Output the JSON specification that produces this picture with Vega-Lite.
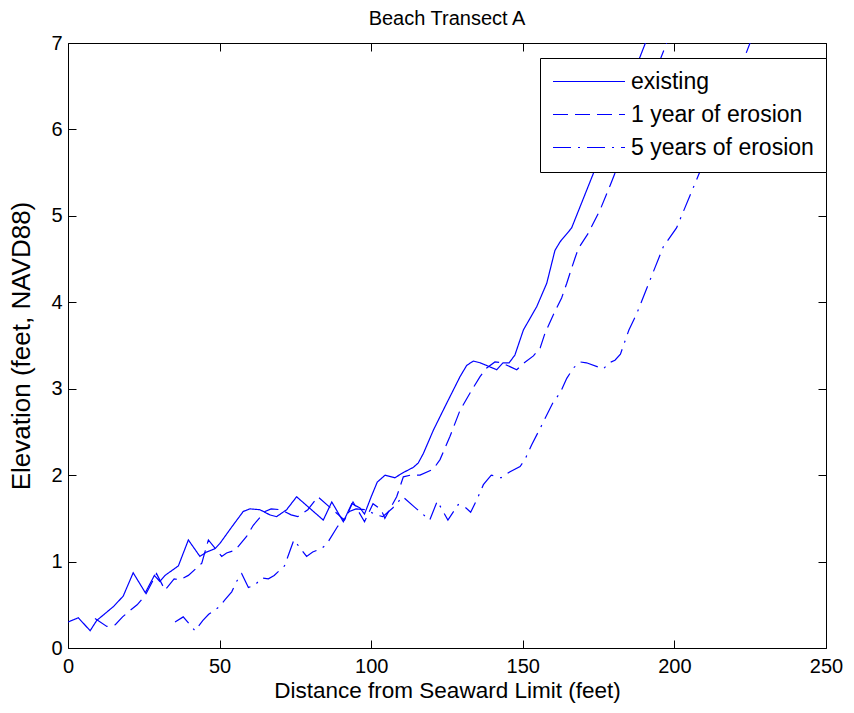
{
  "$schema": "https://vega.github.io/schema/vega-lite/v6.json",
  "autosize": "none",
  "width": 758,
  "height": 605,
  "padding": {"left": 68, "top": 43, "right": 28, "bottom": 65},
  "background": "white",
  "title": {"text": "Beach Transect A", "fontSize": 20, "fontWeight": "normal", "font": "Liberation Sans", "color": "black", "offset": 4},
  "config": {
    "view": {"stroke": "black", "strokeWidth": 1},
    "axis": {"grid": false, "domain": false, "tickColor": "black", "tickSize": -8, "labelColor": "black", "titleColor": "black", "labelFont": "Liberation Sans", "titleFont": "Liberation Sans", "labelFontSize": 20, "titleFontSize": 22.5, "titleFontWeight": "normal", "labelFlush": false},
    "legend": {"labelFont": "Liberation Sans", "labelFontSize": 23, "labelColor": "black", "labelLimit": 400}
  },
  "data": {"values": [
    {"series": "existing", "x": 0, "y": 0.30},
    {"series": "existing", "x": 3.4, "y": 0.35},
    {"series": "existing", "x": 7.3, "y": 0.20},
    {"series": "existing", "x": 9.5, "y": 0.32},
    {"series": "existing", "x": 11.6, "y": 0.38},
    {"series": "existing", "x": 15, "y": 0.48},
    {"series": "existing", "x": 18.2, "y": 0.60},
    {"series": "existing", "x": 21.5, "y": 0.87},
    {"series": "existing", "x": 25.5, "y": 0.64},
    {"series": "existing", "x": 28.5, "y": 0.84},
    {"series": "existing", "x": 30.3, "y": 0.77},
    {"series": "existing", "x": 32, "y": 0.84},
    {"series": "existing", "x": 36.4, "y": 0.95},
    {"series": "existing", "x": 39.7, "y": 1.25},
    {"series": "existing", "x": 43.5, "y": 1.06},
    {"series": "existing", "x": 45.7, "y": 1.11},
    {"series": "existing", "x": 48.5, "y": 1.15},
    {"series": "existing", "x": 50.1, "y": 1.21},
    {"series": "existing", "x": 54, "y": 1.40},
    {"series": "existing", "x": 57.8, "y": 1.58},
    {"series": "existing", "x": 60, "y": 1.61},
    {"series": "existing", "x": 63.3, "y": 1.60},
    {"series": "existing", "x": 66.6, "y": 1.54},
    {"series": "existing", "x": 68.8, "y": 1.52},
    {"series": "existing", "x": 72.1, "y": 1.60},
    {"series": "existing", "x": 75.4, "y": 1.75},
    {"series": "existing", "x": 79.3, "y": 1.63},
    {"series": "existing", "x": 84.2, "y": 1.48},
    {"series": "existing", "x": 87, "y": 1.69},
    {"series": "existing", "x": 90.8, "y": 1.46},
    {"series": "existing", "x": 93.6, "y": 1.67},
    {"series": "existing", "x": 96.3, "y": 1.62},
    {"series": "existing", "x": 97.8, "y": 1.55},
    {"series": "existing", "x": 100, "y": 1.75},
    {"series": "existing", "x": 102, "y": 1.92},
    {"series": "existing", "x": 104.6, "y": 2.00},
    {"series": "existing", "x": 107.8, "y": 1.97},
    {"series": "existing", "x": 110.6, "y": 2.03},
    {"series": "existing", "x": 113.9, "y": 2.09},
    {"series": "existing", "x": 115.5, "y": 2.14},
    {"series": "existing", "x": 117.2, "y": 2.25},
    {"series": "existing", "x": 120.5, "y": 2.52},
    {"series": "existing", "x": 124.3, "y": 2.79},
    {"series": "existing", "x": 129.3, "y": 3.14},
    {"series": "existing", "x": 131.5, "y": 3.27},
    {"series": "existing", "x": 133.7, "y": 3.32},
    {"series": "existing", "x": 135.9, "y": 3.30},
    {"series": "existing", "x": 141.4, "y": 3.22},
    {"series": "existing", "x": 143.5, "y": 3.30},
    {"series": "existing", "x": 145.5, "y": 3.30},
    {"series": "existing", "x": 147.4, "y": 3.39},
    {"series": "existing", "x": 150.2, "y": 3.68},
    {"series": "existing", "x": 154.6, "y": 3.95},
    {"series": "existing", "x": 157.9, "y": 4.22},
    {"series": "existing", "x": 160.6, "y": 4.60},
    {"series": "existing", "x": 162.3, "y": 4.70},
    {"series": "existing", "x": 166.1, "y": 4.86},
    {"series": "existing", "x": 174.4, "y": 5.59},
    {"series": "existing", "x": 180, "y": 6.10},
    {"series": "existing", "x": 186, "y": 6.60},
    {"series": "existing", "x": 191, "y": 7.05},

    {"series": "1 year of erosion", "x": 8.9, "y": 0.34},
    {"series": "1 year of erosion", "x": 12.8, "y": 0.25},
    {"series": "1 year of erosion", "x": 15.6, "y": 0.27},
    {"series": "1 year of erosion", "x": 18, "y": 0.36},
    {"series": "1 year of erosion", "x": 20, "y": 0.42},
    {"series": "1 year of erosion", "x": 22.8, "y": 0.50},
    {"series": "1 year of erosion", "x": 25.5, "y": 0.61},
    {"series": "1 year of erosion", "x": 29.2, "y": 0.86},
    {"series": "1 year of erosion", "x": 32, "y": 0.67},
    {"series": "1 year of erosion", "x": 35, "y": 0.80},
    {"series": "1 year of erosion", "x": 36.9, "y": 0.79},
    {"series": "1 year of erosion", "x": 39.7, "y": 0.84},
    {"series": "1 year of erosion", "x": 44.1, "y": 0.98},
    {"series": "1 year of erosion", "x": 46.3, "y": 1.25},
    {"series": "1 year of erosion", "x": 50.7, "y": 1.06},
    {"series": "1 year of erosion", "x": 52.3, "y": 1.10},
    {"series": "1 year of erosion", "x": 55.1, "y": 1.13},
    {"series": "1 year of erosion", "x": 58.9, "y": 1.29},
    {"series": "1 year of erosion", "x": 61.1, "y": 1.42},
    {"series": "1 year of erosion", "x": 65, "y": 1.58},
    {"series": "1 year of erosion", "x": 67, "y": 1.61},
    {"series": "1 year of erosion", "x": 70.3, "y": 1.60},
    {"series": "1 year of erosion", "x": 73.6, "y": 1.54},
    {"series": "1 year of erosion", "x": 75.8, "y": 1.52},
    {"series": "1 year of erosion", "x": 79.1, "y": 1.60},
    {"series": "1 year of erosion", "x": 82.4, "y": 1.75},
    {"series": "1 year of erosion", "x": 86.3, "y": 1.63},
    {"series": "1 year of erosion", "x": 91.2, "y": 1.48},
    {"series": "1 year of erosion", "x": 94, "y": 1.69},
    {"series": "1 year of erosion", "x": 97.8, "y": 1.46},
    {"series": "1 year of erosion", "x": 100.6, "y": 1.67},
    {"series": "1 year of erosion", "x": 103.3, "y": 1.60},
    {"series": "1 year of erosion", "x": 104.5, "y": 1.50},
    {"series": "1 year of erosion", "x": 108.4, "y": 1.75},
    {"series": "1 year of erosion", "x": 110.6, "y": 1.98},
    {"series": "1 year of erosion", "x": 113, "y": 2.00},
    {"series": "1 year of erosion", "x": 116.1, "y": 2.00},
    {"series": "1 year of erosion", "x": 120.5, "y": 2.07},
    {"series": "1 year of erosion", "x": 122.7, "y": 2.18},
    {"series": "1 year of erosion", "x": 126, "y": 2.45},
    {"series": "1 year of erosion", "x": 129.3, "y": 2.75},
    {"series": "1 year of erosion", "x": 132.6, "y": 2.95},
    {"series": "1 year of erosion", "x": 135.9, "y": 3.14},
    {"series": "1 year of erosion", "x": 138.1, "y": 3.24},
    {"series": "1 year of erosion", "x": 140.8, "y": 3.31},
    {"series": "1 year of erosion", "x": 143, "y": 3.30},
    {"series": "1 year of erosion", "x": 148, "y": 3.22},
    {"series": "1 year of erosion", "x": 150.5, "y": 3.30},
    {"series": "1 year of erosion", "x": 153.5, "y": 3.38},
    {"series": "1 year of erosion", "x": 155.7, "y": 3.47},
    {"series": "1 year of erosion", "x": 157.3, "y": 3.64},
    {"series": "1 year of erosion", "x": 160, "y": 3.85},
    {"series": "1 year of erosion", "x": 162.8, "y": 4.05},
    {"series": "1 year of erosion", "x": 164.5, "y": 4.22},
    {"series": "1 year of erosion", "x": 165.6, "y": 4.34},
    {"series": "1 year of erosion", "x": 167.2, "y": 4.51},
    {"series": "1 year of erosion", "x": 168.3, "y": 4.62},
    {"series": "1 year of erosion", "x": 171.6, "y": 4.80},
    {"series": "1 year of erosion", "x": 175.5, "y": 5.07},
    {"series": "1 year of erosion", "x": 178.9, "y": 5.36},
    {"series": "1 year of erosion", "x": 181.5, "y": 5.59},
    {"series": "1 year of erosion", "x": 188, "y": 6.15},
    {"series": "1 year of erosion", "x": 193, "y": 6.60},
    {"series": "1 year of erosion", "x": 198, "y": 7.05},

    {"series": "5 years of erosion", "x": 35.3, "y": 0.30},
    {"series": "5 years of erosion", "x": 38, "y": 0.36},
    {"series": "5 years of erosion", "x": 41.9, "y": 0.20},
    {"series": "5 years of erosion", "x": 44.5, "y": 0.32},
    {"series": "5 years of erosion", "x": 46.4, "y": 0.39},
    {"series": "5 years of erosion", "x": 50, "y": 0.48},
    {"series": "5 years of erosion", "x": 51.8, "y": 0.56},
    {"series": "5 years of erosion", "x": 54, "y": 0.65},
    {"series": "5 years of erosion", "x": 55.6, "y": 0.77},
    {"series": "5 years of erosion", "x": 57.3, "y": 0.86},
    {"series": "5 years of erosion", "x": 59.5, "y": 0.70},
    {"series": "5 years of erosion", "x": 61.7, "y": 0.73},
    {"series": "5 years of erosion", "x": 63.9, "y": 0.81},
    {"series": "5 years of erosion", "x": 66.1, "y": 0.80},
    {"series": "5 years of erosion", "x": 68, "y": 0.84},
    {"series": "5 years of erosion", "x": 71.4, "y": 0.95},
    {"series": "5 years of erosion", "x": 74.5, "y": 1.25},
    {"series": "5 years of erosion", "x": 78.7, "y": 1.06},
    {"series": "5 years of erosion", "x": 80.7, "y": 1.11},
    {"series": "5 years of erosion", "x": 83.5, "y": 1.15},
    {"series": "5 years of erosion", "x": 85.3, "y": 1.20},
    {"series": "5 years of erosion", "x": 88.8, "y": 1.40},
    {"series": "5 years of erosion", "x": 92.8, "y": 1.58},
    {"series": "5 years of erosion", "x": 95, "y": 1.61},
    {"series": "5 years of erosion", "x": 98.3, "y": 1.60},
    {"series": "5 years of erosion", "x": 101.6, "y": 1.54},
    {"series": "5 years of erosion", "x": 103.8, "y": 1.52},
    {"series": "5 years of erosion", "x": 107.1, "y": 1.62},
    {"series": "5 years of erosion", "x": 110.4, "y": 1.75},
    {"series": "5 years of erosion", "x": 114.3, "y": 1.63},
    {"series": "5 years of erosion", "x": 119.3, "y": 1.48},
    {"series": "5 years of erosion", "x": 121.8, "y": 1.70},
    {"series": "5 years of erosion", "x": 125.3, "y": 1.48},
    {"series": "5 years of erosion", "x": 128.7, "y": 1.66},
    {"series": "5 years of erosion", "x": 131.3, "y": 1.62},
    {"series": "5 years of erosion", "x": 132.8, "y": 1.57},
    {"series": "5 years of erosion", "x": 134.9, "y": 1.72},
    {"series": "5 years of erosion", "x": 137, "y": 1.89},
    {"series": "5 years of erosion", "x": 139.6, "y": 2.00},
    {"series": "5 years of erosion", "x": 142.8, "y": 1.97},
    {"series": "5 years of erosion", "x": 145.8, "y": 2.04},
    {"series": "5 years of erosion", "x": 149.1, "y": 2.10},
    {"series": "5 years of erosion", "x": 150.7, "y": 2.18},
    {"series": "5 years of erosion", "x": 152.9, "y": 2.35},
    {"series": "5 years of erosion", "x": 155.7, "y": 2.54},
    {"series": "5 years of erosion", "x": 158.4, "y": 2.73},
    {"series": "5 years of erosion", "x": 160.1, "y": 2.85},
    {"series": "5 years of erosion", "x": 162.3, "y": 2.95},
    {"series": "5 years of erosion", "x": 164.5, "y": 3.12},
    {"series": "5 years of erosion", "x": 166.7, "y": 3.24},
    {"series": "5 years of erosion", "x": 168.9, "y": 3.31},
    {"series": "5 years of erosion", "x": 171, "y": 3.30},
    {"series": "5 years of erosion", "x": 176.6, "y": 3.23},
    {"series": "5 years of erosion", "x": 178.5, "y": 3.30},
    {"series": "5 years of erosion", "x": 180.4, "y": 3.33},
    {"series": "5 years of erosion", "x": 182.2, "y": 3.40},
    {"series": "5 years of erosion", "x": 185, "y": 3.68},
    {"series": "5 years of erosion", "x": 187.6, "y": 3.87},
    {"series": "5 years of erosion", "x": 192, "y": 4.26},
    {"series": "5 years of erosion", "x": 196.3, "y": 4.64},
    {"series": "5 years of erosion", "x": 197.5, "y": 4.70},
    {"series": "5 years of erosion", "x": 200.7, "y": 4.86},
    {"series": "5 years of erosion", "x": 208.4, "y": 5.51},
    {"series": "5 years of erosion", "x": 215, "y": 6.10},
    {"series": "5 years of erosion", "x": 220, "y": 6.55},
    {"series": "5 years of erosion", "x": 225.5, "y": 7.05}
  ]},
  "layer": [
    {
      "mark": {"type": "line", "clip": true, "strokeWidth": 1.2, "color": "#0000ff"},
      "encoding": {
        "x": {"field": "x", "type": "quantitative", "scale": {"domain": [0, 250], "nice": false, "zero": false},
              "axis": {"orient": "bottom", "values": [0, 50, 100, 150, 200, 250], "title": "Distance from Seaward Limit (feet)", "labelPadding": 16, "titlePadding": 3}},
        "y": {"field": "y", "type": "quantitative", "scale": {"domain": [0, 7], "nice": false, "zero": false},
              "axis": {"orient": "left", "values": [0, 1, 2, 3, 4, 5, 6, 7], "title": "Elevation (feet, NAVD88)", "titleFontSize": 26, "labelPadding": 14, "titlePadding": 16}},
        "strokeDash": {"field": "series", "type": "nominal",
          "scale": {"domain": ["existing", "1 year of erosion", "5 years of erosion"], "range": [[1, 0], [15, 7], [18, 7, 2, 7]]},
          "legend": {"title": null, "orient": "none", "legendX": 472, "legendY": 15, "symbolType": "M-3.6,0H3.6", "symbolSize": 400, "symbolOffset": 25.5, "symbolStrokeWidth": 1.2, "symbolStrokeColor": "#0000ff", "symbolFillColor": "transparent", "strokeColor": "black", "fillColor": "white", "padding": 12, "rowPadding": 9, "labelOffset": 30.5}}
      }
    },
    {
      "mark": {"type": "line", "clip": true, "opacity": 0},
      "encoding": {
        "x": {"field": "x", "type": "quantitative", "axis": {"orient": "top", "values": [0, 50, 100, 150, 200, 250], "labels": false, "title": null}},
        "y": {"field": "y", "type": "quantitative", "axis": {"orient": "right", "values": [0, 1, 2, 3, 4, 5, 6, 7], "labels": false, "title": null}},
        "detail": {"field": "series"}
      }
    }
  ],
  "resolve": {"axis": {"x": "independent", "y": "independent"}}
}
